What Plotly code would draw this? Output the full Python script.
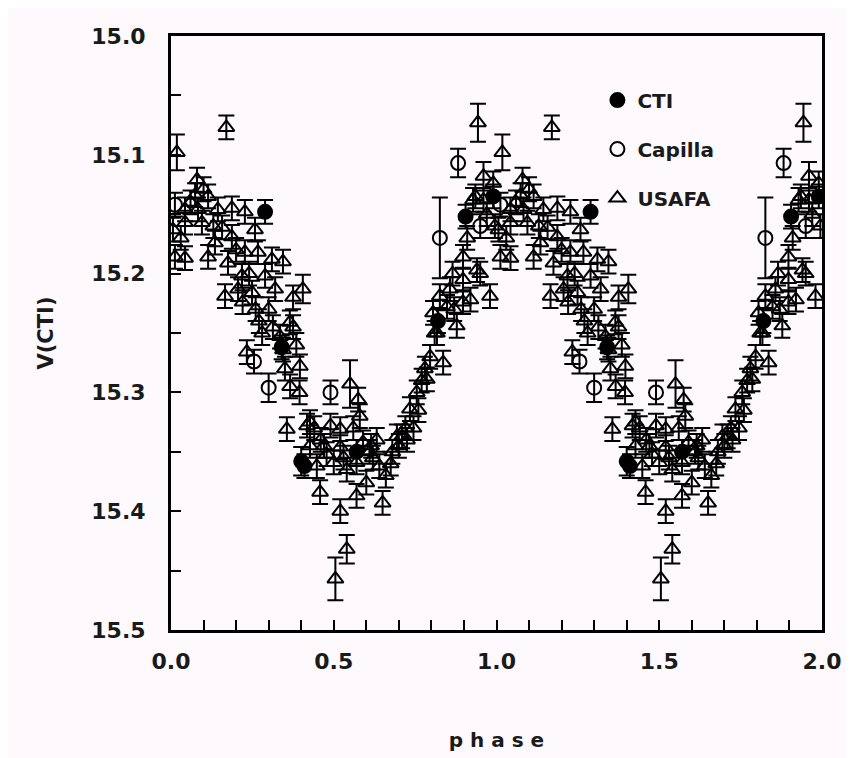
import plotly.graph_objects as go

# ---------------- data (phase 0-1; plotted again at phase+1) ----------------
cti_phase = [0.289, 0.400, 0.410, 0.905, 0.990, 0.340, 0.570, 0.820]
cti_mag   = [15.148, 15.358, 15.362, 15.152, 15.135, 15.262, 15.350, 15.240]
cti_err   = [0.010, 0.012, 0.010, 0.010, 0.010, 0.010, 0.010, 0.010]

cap_phase = [0.012, 0.255, 0.300, 0.490, 0.826, 0.882, 0.950]
cap_mag   = [15.142, 15.274, 15.296, 15.300, 15.170, 15.107, 15.160]
cap_err   = [0.010, 0.010, 0.012, 0.010, 0.034, 0.012, 0.010]

usafa_phase = [0.018, 0.170, 0.080, 0.074, 0.114, 0.043, 0.083, 0.144, 0.187, 0.227,
               0.006, 0.043, 0.095, 0.157, 0.258, 0.135, 0.187, 0.012, 0.043, 0.114,
               0.175, 0.227, 0.267, 0.310, 0.218, 0.289, 0.166, 0.206, 0.249, 0.320,
               0.405, 0.344, 0.375, 0.260, 0.220, 0.365, 0.335, 0.313, 0.375, 0.233,
               0.344, 0.396, 0.366, 0.356, 0.418, 0.427, 0.550, 0.575, 0.490, 0.520,
               0.560, 0.427, 0.478, 0.520, 0.570, 0.448, 0.500, 0.540, 0.590, 0.632,
               0.680, 0.710, 0.640, 0.600, 0.570, 0.458, 0.520, 0.650, 0.540, 0.505,
               0.694, 0.725, 0.734, 0.755, 0.786, 0.836, 0.796, 0.817, 0.878, 0.805,
               0.848, 0.897, 0.826, 0.857, 0.980, 0.897, 0.940, 0.897, 0.928, 0.990,
               0.943, 0.920, 0.950, 0.960, 0.935, 0.960, 0.100, 0.700, 0.620, 0.580,
               0.760, 0.770, 0.610, 0.660, 0.745, 0.870, 0.300, 0.280, 0.395, 0.460,
               0.030, 0.060, 0.130, 0.200, 0.240, 0.270, 0.350, 0.385, 0.440, 0.470,
               0.530, 0.615, 0.675, 0.720, 0.780, 0.810, 0.865, 0.910, 0.970, 0.995]
usafa_mag = [15.098, 15.077, 15.121, 15.134, 15.135, 15.146, 15.146, 15.146, 15.145, 15.148,
             15.163, 15.157, 15.157, 15.161, 15.163, 15.174, 15.169, 15.186, 15.187, 15.186,
             15.191, 15.182, 15.182, 15.188, 15.202, 15.202, 15.219, 15.213, 15.216, 15.213,
             15.213, 15.190, 15.220, 15.230, 15.224, 15.241, 15.253, 15.245, 15.245, 15.266,
             15.264, 15.278, 15.295, 15.331, 15.328, 15.325, 15.293, 15.306, 15.328, 15.331,
             15.330, 15.345, 15.352, 15.346, 15.359, 15.362, 15.359, 15.365, 15.342, 15.340,
             15.350, 15.337, 15.362, 15.376, 15.387, 15.384, 15.400, 15.393, 15.432, 15.457,
             15.337, 15.340, 15.314, 15.300, 15.289, 15.275, 15.270, 15.250, 15.244, 15.233,
             15.228, 15.224, 15.219, 15.213, 15.219, 15.205, 15.197, 15.186, 15.138, 15.124,
             15.073, 15.222, 15.200, 15.138, 15.135, 15.118, 15.129, 15.345, 15.355, 15.320,
             15.315, 15.290, 15.350, 15.370, 15.330, 15.230, 15.230, 15.250, 15.300, 15.340,
             15.170, 15.140, 15.160, 15.180, 15.200, 15.240, 15.280, 15.260, 15.330, 15.345,
             15.355, 15.345, 15.360, 15.330, 15.280, 15.250, 15.200, 15.170, 15.150, 15.160]
usafa_err = [0.015, 0.010, 0.010, 0.010, 0.010, 0.010, 0.010, 0.010, 0.010, 0.010,
             0.010, 0.010, 0.010, 0.010, 0.010, 0.010, 0.010, 0.010, 0.010, 0.010,
             0.010, 0.010, 0.010, 0.010, 0.010, 0.010, 0.010, 0.010, 0.010, 0.010,
             0.012, 0.010, 0.010, 0.010, 0.010, 0.010, 0.010, 0.010, 0.010, 0.010,
             0.010, 0.010, 0.010, 0.010, 0.010, 0.010, 0.020, 0.010, 0.010, 0.010,
             0.010, 0.010, 0.010, 0.010, 0.010, 0.010, 0.010, 0.010, 0.010, 0.010,
             0.010, 0.010, 0.010, 0.010, 0.010, 0.010, 0.010, 0.010, 0.012, 0.018,
             0.010, 0.010, 0.010, 0.010, 0.010, 0.010, 0.010, 0.010, 0.010, 0.010,
             0.010, 0.010, 0.010, 0.010, 0.010, 0.010, 0.010, 0.010, 0.010, 0.010,
             0.016, 0.010, 0.010, 0.010, 0.010, 0.012, 0.010, 0.010, 0.010, 0.010,
             0.010, 0.010, 0.010, 0.010, 0.010, 0.010, 0.010, 0.010, 0.010, 0.010,
             0.010, 0.010, 0.010, 0.010, 0.010, 0.010, 0.010, 0.010, 0.010, 0.010,
             0.010, 0.010, 0.010, 0.010, 0.010, 0.010, 0.010, 0.010, 0.010, 0.010]

x_ticks = [0.0, 0.5, 1.0, 1.5, 2.0]
y_ticks = [15.0, 15.1, 15.2, 15.3, 15.4, 15.5]


def two_cycles(vals, shift):
    return list(vals) + [v + shift for v in vals]


BG = "#fdf9fd"
FONT = "DejaVu Sans"
INK = "#1a1a1a"

fig = go.Figure()


def add_series(name, ph, mag, err, symbol, rank, size):
    fig.add_trace(go.Scatter(
        x=two_cycles(ph, 1.0), y=two_cycles(mag, 0.0),
        mode="markers", name=name, legendrank=rank, legendgroup=name,
        marker=dict(symbol=symbol, size=size, color="black",
                    line=dict(color="black", width=2)),
        error_y=dict(type="data", array=two_cycles(err, 0.0), visible=True,
                     color="black", thickness=2, width=8),
    ))


add_series("USAFA", usafa_phase, usafa_mag, usafa_err, "triangle-up-open", 3, 14)
add_series("Capilla", cap_phase, cap_mag, cap_err, "circle-open", 2, 14)
add_series("CTI", cti_phase, cti_mag, cti_err, "circle", 1, 14)

axis_common = dict(
    showline=True, linecolor="black", linewidth=3, mirror=True,
    ticks="inside", ticklen=10, tickwidth=2, tickcolor="black",
    showgrid=False, zeroline=False,
    tickfont=dict(family=FONT, size=22, color=INK, weight="bold"),
)

fig.update_xaxes(
    range=[0, 2], tickvals=x_ticks, tickformat=".1f",
    minor=dict(dtick=0.1, ticks="inside", ticklen=10, tickwidth=2, tickcolor="black"),
    title=dict(text="p h a s e", font=dict(family=FONT, size=20, color=INK, weight="bold"),
               standoff=60),
    ticklabelstandoff=10,
    **axis_common,
)
fig.update_yaxes(
    range=[15.5, 15.0], tickvals=y_ticks, tickformat=".1f",
    minor=dict(dtick=0.05, ticks="inside", ticklen=10, tickwidth=2, tickcolor="black"),
    title=dict(text="V(CTI)", font=dict(family=FONT, size=21, color=INK, weight="bold"),
               standoff=32),
    ticklabelstandoff=18,
    **axis_common,
)

fig.update_layout(
    width=854, height=758,
    margin=dict(l=163, r=40, t=28, b=136),
    paper_bgcolor=BG, plot_bgcolor=BG,
    showlegend=True,
    legend=dict(x=0.655, y=0.925, xanchor="left", yanchor="top",
                bgcolor="rgba(0,0,0,0)", borderwidth=0,
                tracegroupgap=20, itemwidth=30,
                font=dict(family=FONT, size=20, color=INK, weight="bold")),
)

fig.write_html("out.html")
